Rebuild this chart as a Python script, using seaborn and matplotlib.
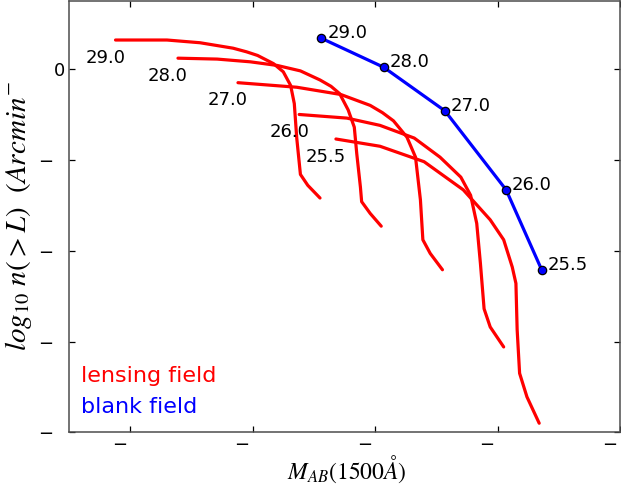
import pandas as pd
import matplotlib
matplotlib.use("Agg")
import matplotlib.pyplot as plt
import matplotlib.transforms as mtransforms
import seaborn as sns

# ── Data ──────────────────────────────────────────────────────────────────────
# limiting magnitudes of each curve
mags = ["29.0", "28.0", "27.0", "26.0", "25.5"]

# lensing field curves: M_AB vs log10 n(>L)
lens_29_x = [-22.12, -21.70, -21.43, -21.16, -21.05, -20.96, -20.83, -20.75, -20.69, -20.66, -20.64, -20.61, -20.55, -20.45]
lens_29_y = [0.32, 0.32, 0.29, 0.23, 0.19, 0.15, 0.06, -0.03, -0.18, -0.38, -0.76, -1.16, -1.28, -1.42]
lens_28_x = [-21.61, -21.29, -21.02, -20.80, -20.61, -20.45, -20.36, -20.29, -20.22, -20.17, -20.15, -20.12, -20.11, -20.04, -19.95]
lens_28_y = [0.12, 0.11, 0.08, 0.04, -0.02, -0.12, -0.19, -0.27, -0.45, -0.64, -0.93, -1.30, -1.46, -1.59, -1.73]
lens_27_x = [-21.12, -20.64, -20.28, -20.04, -19.94, -19.85, -19.74, -19.67, -19.63, -19.61, -19.55, -19.45]
lens_27_y = [-0.15, -0.20, -0.28, -0.40, -0.48, -0.57, -0.75, -0.97, -1.44, -1.88, -2.03, -2.21]
lens_26_x = [-20.62, -20.23, -19.96, -19.68, -19.47, -19.30, -19.22, -19.17, -19.14, -19.11, -19.06, -18.95]
lens_26_y = [-0.50, -0.54, -0.62, -0.76, -0.97, -1.19, -1.39, -1.70, -2.14, -2.64, -2.84, -3.06]
lens_255_x = [-20.32, -19.96, -19.60, -19.28, -19.06, -18.95, -18.88, -18.85, -18.84, -18.82, -18.76, -18.66]
lens_255_y = [-0.77, -0.85, -1.02, -1.33, -1.66, -1.88, -2.18, -2.36, -2.87, -3.35, -3.61, -3.90]

# blank field points
blank_x = [-20.44, -19.93, -19.43, -18.93, -18.64]
blank_y = [0.34, 0.02, -0.46, -1.33, -2.21]

xticks = [-22, -21, -20, -19, -18]
yticks = [0, -1, -2, -3, -4]

lens_x = [lens_29_x, lens_28_x, lens_27_x, lens_26_x, lens_255_x]
lens_y = [lens_29_y, lens_28_y, lens_27_y, lens_26_y, lens_255_y]
lens = pd.concat([pd.DataFrame({"M": xs, "logn": ys, "mag": m})
                  for xs, ys, m in zip(lens_x, lens_y, mags)], ignore_index=True)
blank = pd.DataFrame({"M": blank_x, "logn": blank_y, "mag": mags})

# ── Style ─────────────────────────────────────────────────────────────────────
sns.set_style("ticks")
plt.rcParams["font.family"] = ["DejaVu Sans"]
plt.rcParams["mathtext.fontset"] = "stix"
plt.rcParams.update({"text.color": "black", "axes.labelcolor": "black",
                     "xtick.color": "black", "ytick.color": "black"})

fig = plt.figure(figsize=(6.21, 4.84), dpi=100)
ax = fig.add_axes([0.1111, 0.1068, 0.8873, 0.8912])

sns.lineplot(data=lens, x="M", y="logn", units="mag", estimator=None, sort=False,
             color="red", linewidth=2.3, ax=ax)
sns.lineplot(data=blank, x="M", y="logn", estimator=None, sort=False,
             color="blue", linewidth=2.3, marker="o", markersize=6,
             markeredgecolor="black", markeredgewidth=0.9, ax=ax)

for xs, ys, m in zip(lens_x, lens_y, mags):
    ax.annotate(m, (xs[0], ys[0]), xytext=(-21.5, -16.3), textcoords="offset points",
                ha="left", va="baseline", fontsize=13, color="black")
for x, y, m in zip(blank_x, blank_y, mags):
    ax.annotate(m, (x, y), xytext=(4.3, 0), textcoords="offset points",
                ha="left", va="baseline", fontsize=13, color="black")

ax.text(0.021, 0.1175, "lensing field", color="red", fontsize=16, transform=ax.transAxes,
        ha="left", va="baseline")
ax.text(0.021, 0.044, "blank field", color="blue", fontsize=16, transform=ax.transAxes,
        ha="left", va="baseline")

ax.set_xlim(-22.5, -18)
ax.set_ylim(-4, 0.75)
ax.set_xticks(xticks)
ax.set_yticks(yticks)
# tick labels show only the minus sign (digits missing in the original)
ax.set_xticklabels(["\u2212"] * len(xticks))
ax.set_yticklabels(["0"] + ["\u2212"] * (len(yticks) - 1))
ax.tick_params(direction="in", top=True, right=True, length=4, width=0.9,
               labelsize=13, pad=3, color="black", labelcolor="black")
for sp in ax.spines.values():
    sp.set_color("0.3")
    sp.set_linewidth(1.1)

dx_x = mtransforms.ScaledTranslation(-10.5 / 100, 0, fig.dpi_scale_trans)
for lab in ax.get_xticklabels():
    lab.set_transform(lab.get_transform() + dx_x)
dx_y = mtransforms.ScaledTranslation(-12 / 100, 0, fig.dpi_scale_trans)
for lab in ax.get_yticklabels()[1:]:
    lab.set_transform(lab.get_transform() + dx_y)

ax.set_xlabel(r"$M_{AB}(1500\AA)$", fontsize=17)
ax.set_ylabel(r"$log_{10}\ n(>L)\ \ (Arcmin^{-}$", fontsize=21)
ax.xaxis.set_label_coords(0.505, -0.049)
ax.yaxis.set_label_coords(-0.064, 0.503)

fig.savefig("out.png", dpi=100)
